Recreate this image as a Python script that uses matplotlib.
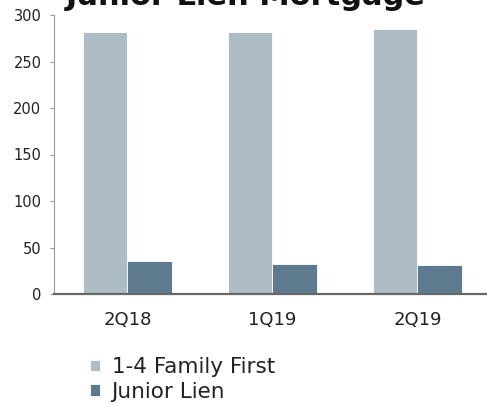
import matplotlib.pyplot as plt
import numpy as np

quarters = ["2Q18", "1Q19", "2Q19"]
family_first = [282, 282, 285]
junior_lien = [35, 32, 31]

light = "#aebcc6"
dark = "#5e7a8e"

fig = plt.figure(figsize=(4.87, 4.04), dpi=100)
ax = fig.add_axes([54 / 487, 1 - 294 / 404, 1 - 54 / 487, (294 - 15) / 404])

x = np.arange(len(quarters))
w = 0.305
ax.bar(x - w / 2, family_first, w, color=light, edgecolor="white", linewidth=0.6, label="1-4 Family First")
ax.bar(x + w / 2, junior_lien, w, color=dark, edgecolor="white", linewidth=0.6, label="Junior Lien")

ax.set_xlim(-0.507, 2.48)
ax.set_ylim(0, 300)
ax.set_yticks([0, 50, 100, 150, 200, 250, 300])
ax.set_xticks(x)
ax.set_xticklabels(quarters, fontsize=13, color="#222222")
ax.tick_params(axis="x", length=0, pad=12)
ax.tick_params(axis="y", labelsize=10.5, colors="#222222", length=3, color="#999999", pad=6)

for s in ["top", "right"]:
    ax.spines[s].set_visible(False)
ax.spines["left"].set_color("#999999")
ax.spines["bottom"].set_color("#666666")
ax.spines["bottom"].set_linewidth(1.6)

fig.text(245.5 / 487, 1.0 - 5 / 404, "Junior Lien Mortgage", ha="center", va="baseline",
         fontsize=22, fontweight="bold", color="#111111")

ax.legend(loc="upper left", bbox_to_anchor=(90 / 487, 1 - 357 / 404), bbox_transform=fig.transFigure,
          frameon=False, fontsize=15.5, handlelength=0.45, handleheight=0.45, handletextpad=0.55,
          labelspacing=0.23, borderaxespad=0, borderpad=0, labelcolor="#222222")

fig.savefig("out.png", dpi=100)
